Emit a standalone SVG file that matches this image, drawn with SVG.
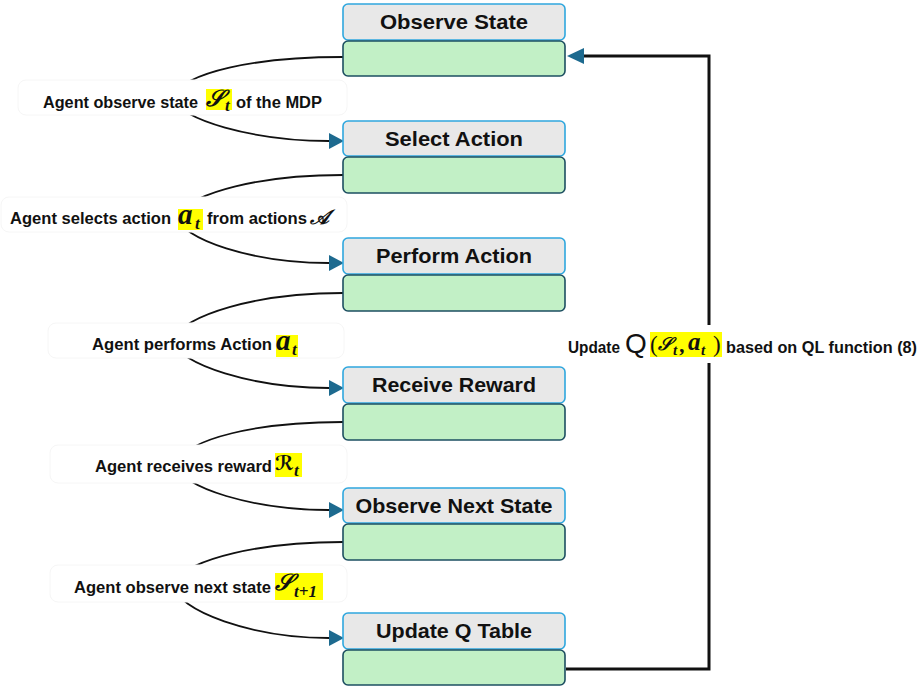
<svg xmlns="http://www.w3.org/2000/svg" width="920" height="687" viewBox="0 0 920 687">
<defs>
<style>
.grey{fill:#e8e8e8;stroke:#2fa7de;stroke-width:1.6}
.green{fill:#c2f0c6;stroke:#1d4f61;stroke-width:1.6}
.title{font-family:"Liberation Sans",Arial,sans-serif;font-weight:bold;font-size:21px;fill:#111;text-anchor:middle}
.lbl{font-family:"Liberation Sans",Arial,sans-serif;font-weight:bold;font-size:16px;fill:#111}
.math{font-family:"Liberation Serif","DejaVu Serif",serif;font-weight:bold;font-style:italic;fill:#111}
.up{font-family:"Liberation Serif","DejaVu Serif",serif;font-weight:normal;font-style:normal;fill:#111}
.scr{font-family:"DejaVu Serif","DejaVu Sans","Noto Sans",serif;font-weight:bold;font-style:italic;fill:#111}
.hl{fill:#ffff00}
.lbg{fill:#ffffff;stroke:#f6f6f6;stroke-width:1}
.curve{fill:none;stroke:#111;stroke-width:1.8}
.fb{fill:none;stroke:#111;stroke-width:3}
</style>
<marker id="ah" markerUnits="userSpaceOnUse" markerWidth="16" markerHeight="18" refX="0" refY="8" orient="auto">
<path d="M0,0 L15,8 L0,16 z" fill="#1d6a8f"/>
</marker>
<marker id="ah2" markerUnits="userSpaceOnUse" markerWidth="18" markerHeight="18" refX="0" refY="8" orient="auto">
<path d="M0,0 L17,8 L0,16 z" fill="#1d6a8f"/>
</marker>
</defs>

<g id="connectors">
<path class="curve" d="M343,57 C255,57 185,72 172,97 C178,120 255,141 329,141" marker-end="url(#ah)"/>
<path class="curve" d="M343,175 C260,175 195,192 176,215 C180,240 255,263 329,263" marker-end="url(#ah)"/>
<path class="curve" d="M343,293 C255,293 185,315 172,340 C178,365 255,388 329,388" marker-end="url(#ah)"/>
<path class="curve" d="M343,422 C258,422 188,438 175,464 C180,488 255,510 329,510" marker-end="url(#ah)"/>
<path class="curve" d="M343,542 C262,542 190,558 172,583 C176,612 255,638 329,638" marker-end="url(#ah)"/>
<path class="fb" d="M566,669 H709 V56 H584" marker-end="url(#ah2)"/>
</g>

<g id="node-observe-state">
<rect class="grey" x="343" y="4" width="222" height="36" rx="5"/>
<rect class="green" x="343" y="41" width="222" height="35" rx="5"/>
<text class="title" x="454" y="29" textLength="148" lengthAdjust="spacingAndGlyphs">Observe State</text>
</g>
<g id="node-select-action">
<rect class="grey" x="343" y="121" width="222" height="35" rx="5"/>
<rect class="green" x="343" y="157" width="222" height="36" rx="5"/>
<text class="title" x="454" y="146" textLength="138" lengthAdjust="spacingAndGlyphs">Select Action</text>
</g>
<g id="node-perform-action">
<rect class="grey" x="343" y="238" width="222" height="36" rx="5"/>
<rect class="green" x="343" y="275" width="222" height="36" rx="5"/>
<text class="title" x="454" y="263" textLength="156" lengthAdjust="spacingAndGlyphs">Perform Action</text>
</g>
<g id="node-receive-reward">
<rect class="grey" x="343" y="367" width="222" height="36" rx="5"/>
<rect class="green" x="343" y="404" width="222" height="36" rx="5"/>
<text class="title" x="454" y="392" textLength="164" lengthAdjust="spacingAndGlyphs">Receive Reward</text>
</g>
<g id="node-observe-next-state">
<rect class="grey" x="343" y="488" width="222" height="35" rx="5"/>
<rect class="green" x="343" y="524" width="222" height="36" rx="5"/>
<text class="title" x="454" y="513" textLength="197" lengthAdjust="spacingAndGlyphs">Observe Next State</text>
</g>
<g id="node-update-q-table">
<rect class="grey" x="343" y="613" width="222" height="36" rx="5"/>
<rect class="green" x="343" y="650" width="222" height="35" rx="5"/>
<text class="title" x="454" y="638" textLength="156" lengthAdjust="spacingAndGlyphs">Update Q Table</text>
</g>

<g id="label-1">
<rect class="lbg" x="18" y="80" width="329" height="35" rx="8"/>
<text class="lbl" x="43" y="108" textLength="155" lengthAdjust="spacingAndGlyphs">Agent observe state</text>
<rect class="hl" x="206" y="89" width="26" height="21"/>
<text class="scr" x="206" y="106" font-size="23">𝒮</text>
<text class="math" x="225" y="111" font-size="17">t</text>
<text class="lbl" x="236" y="108" textLength="86" lengthAdjust="spacingAndGlyphs">of the MDP</text>
</g>
<g id="label-2">
<rect class="lbg" x="1" y="197" width="346" height="35" rx="8"/>
<text class="lbl" x="10" y="224" textLength="161" lengthAdjust="spacingAndGlyphs">Agent selects action</text>
<rect class="hl" x="178" y="209" width="25" height="21"/>
<text class="math" x="178" y="224" font-size="29">a</text>
<text class="math" x="195" y="229" font-size="17">t</text>
<text class="lbl" x="207" y="224" textLength="100" lengthAdjust="spacingAndGlyphs">from actions</text>
<text class="scr" x="310" y="224" font-size="20">𝒜</text>
</g>
<g id="label-3">
<rect class="lbg" x="48" y="323" width="296" height="35" rx="8"/>
<text class="lbl" x="92" y="350" textLength="180" lengthAdjust="spacingAndGlyphs">Agent performs Action</text>
<rect class="hl" x="276" y="335" width="22" height="22"/>
<text class="math" x="276" y="350" font-size="29">a</text>
<text class="math" x="292" y="355" font-size="17">t</text>
</g>
<g id="label-4">
<rect class="lbg" x="50" y="445" width="297" height="38" rx="8"/>
<text class="lbl" x="95" y="472" textLength="177" lengthAdjust="spacingAndGlyphs">Agent receives reward</text>
<rect class="hl" x="275" y="453" width="27" height="24"/>
<text class="scr" x="275" y="470" font-size="20">ℛ</text>
<text class="math" x="294" y="476" font-size="17">t</text>
</g>
<g id="label-5">
<rect class="lbg" x="50" y="565" width="297" height="37" rx="8"/>
<text class="lbl" x="74" y="593" textLength="197" lengthAdjust="spacingAndGlyphs">Agent observe next state</text>
<rect class="hl" x="275" y="573" width="48" height="27"/>
<text class="scr" x="275" y="590" font-size="23">𝒮</text>
<text class="math" x="294" y="597" font-size="17">t+1</text>
</g>
<g id="label-update">
<rect x="563" y="325" width="357" height="38" fill="#ffffff"/>
<text class="lbl" x="568" y="353" textLength="52" lengthAdjust="spacingAndGlyphs">Update</text>
<text x="625" y="353" font-family="'Liberation Sans',Arial,sans-serif" font-size="28" fill="#111">Q</text>
<rect class="hl" x="650" y="332" width="72" height="25"/>
<text class="up" x="650" y="352" font-size="23">(</text>
<text class="scr" x="658" y="350" font-size="18">𝒮</text>
<text class="math" x="673" y="355" font-size="15">t</text>
<text class="math" x="680" y="352" font-size="22">,</text>
<text class="math" x="688" y="350" font-size="25">a</text>
<text class="math" x="701" y="355" font-size="15">t</text>
<text class="up" x="713" y="352" font-size="23">)</text>
<text class="lbl" x="726" y="353" textLength="191" lengthAdjust="spacingAndGlyphs">based on QL function (8)</text>
</g>
</svg>
